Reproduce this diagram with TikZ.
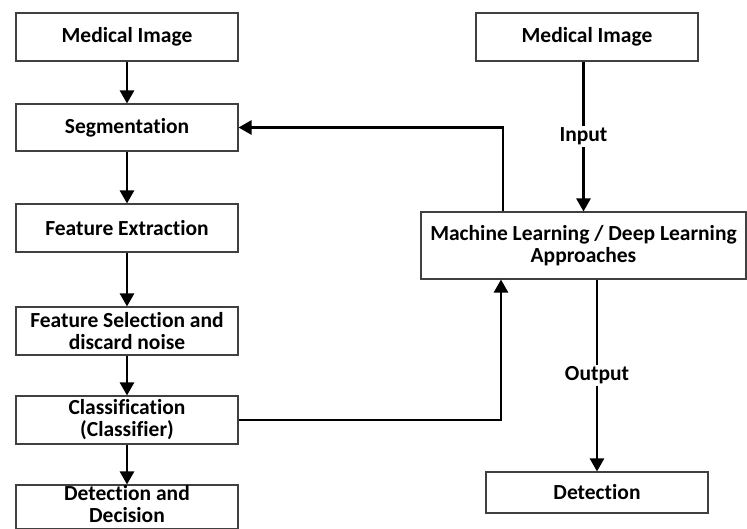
\documentclass[tikz,border=0pt]{standalone}
\usepackage{fontspec}
\setmainfont[Ligatures=NoCommon]{Carlito}
\usetikzlibrary{arrows.meta,calc}
\begin{document}
\begin{tikzpicture}[x=1pt,y=-1pt,
  box/.style={draw=black!75,line width=1.1pt,fill=white,minimum width=222pt,minimum height=48pt,inner sep=0pt,align=center,font=\fontsize{21.5}{22}\selectfont\bfseries,text=black},
  arr/.style={line width=2.6pt,-{Triangle[width=14pt,length=13pt]}},
  lbl/.style={fill=white,inner sep=2pt,font=\fontsize{21.5}{22}\selectfont\bfseries,text=black},
  txt/.style={inner sep=0pt,align=center,font=\fontsize{21.5}{22}\selectfont\bfseries,text=black}]
\useasboundingbox (0,0) rectangle (747,529);
\clip (0,0) rectangle (747,529);
% left column
\node[box] (lmi) at (127,37) {Medical Image};
\node[box,minimum height=47pt] (seg) at (127,127.5) {Segmentation};
\node[box] (fe) at (127,228) {Feature Extraction};
\node[box] (fs) at (127,331) {Feature Selection and\\discard noise};
\node[box] (cls) at (127,420) {Classification\\(Classifier)};
\node[box,minimum height=44pt] (dd) at (127,507) {};
\node[txt] (ddt) at (127,504) {Detection and\\Decision};
% right column
\node[box] (rmi) at (587,37) {Medical Image};
\node[box,minimum width=325pt,minimum height=67pt] (ml) at (583.5,245.5) {Machine Learning / Deep Learning\\Approaches};
\node[box,minimum height=41pt] (det) at (597,492.5) {Detection};
% helper coordinates
\coordinate (fbx) at (503,0);
\coordinate (clx) at (501,0);
% left arrows
\draw[arr] (lmi) -- (seg);
\draw[arr] (seg) -- (fe);
\draw[arr] (fe) -- (fs);
\draw[arr] (fs) -- (cls);
\draw[arr] (cls) -- (dd);
% right arrows
\draw[arr] (rmi.south -| ml.north) -- node[lbl] {Input} (ml.north);
\draw[arr] (ml.south -| det.north) -- node[lbl,pos=0.5] {Output} (det.north);
% feedback
\draw[arr] (ml.north -| fbx) |- (seg.east);
\draw[arr] (cls.east) -| (ml.south -| clx);
\end{tikzpicture}
\end{document}
